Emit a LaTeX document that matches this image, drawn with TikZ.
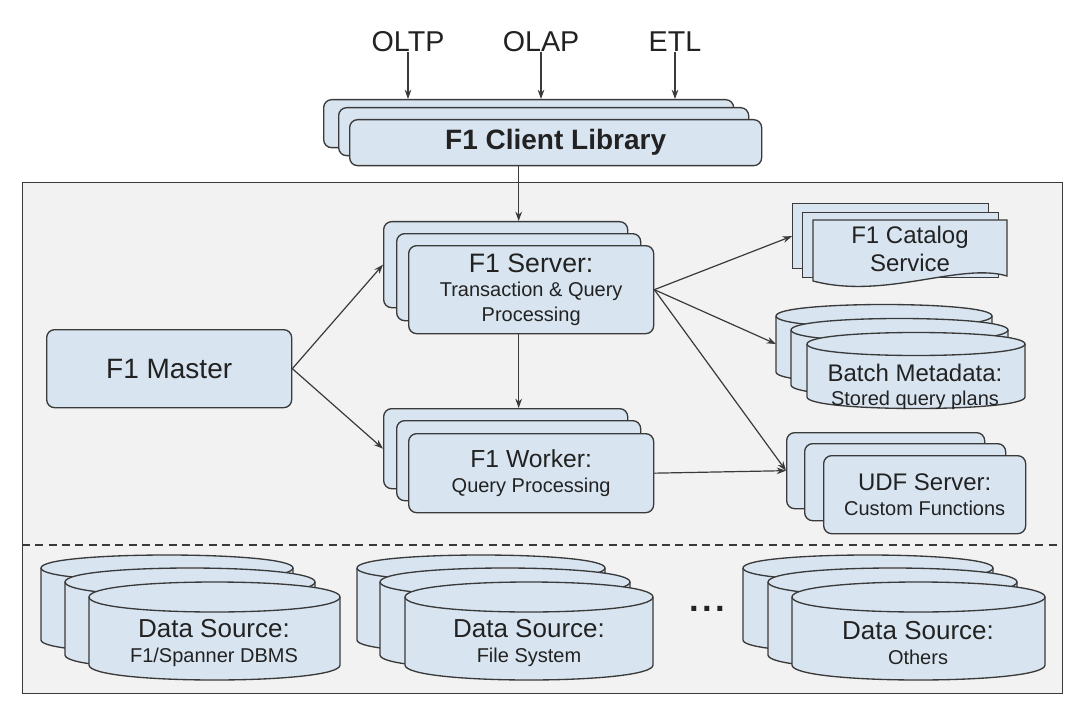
\documentclass[tikz,border=0pt]{standalone}
\usepackage{fontspec}
\setmainfont{Liberation Sans}
\usetikzlibrary{arrows.meta,calc}
\definecolor{boxfill}{HTML}{D8E5F1}
\definecolor{bord}{HTML}{3A3A3A}
\definecolor{bg}{HTML}{F2F2F2}
\definecolor{txt}{HTML}{222222}
\newcommand\fsz[2]{\fontsize{#1}{#2}\selectfont}
% box: [style]{name}{x1}{y1}{x2}{y2}{text}
\newcommand\bx[7][]{\node[box,#1,minimum width={(#5-#3)*0.75pt},minimum height={(#6-#4)*0.75pt}] (#2) at (#3,#4) {#7};}
% cylinder: {name}{l}{r}{top}{bot}{ry}
\newcommand\cyl[6]{%
  \filldraw[cylst] (#2,#4) -- (#2,#5) .. controls (#2,{#5+#6*4/3}) and (#3,{#5+#6*4/3}) .. (#3,#5) -- (#3,#4) .. controls (#3,{#4-#6*4/3}) and (#2,{#4-#6*4/3}) .. cycle;
  \draw[cylst] (#2,#4) .. controls (#2,{#4+#6*4/3}) and (#3,{#4+#6*4/3}) .. (#3,#4);
  \coordinate (#1-w) at (#2,{(#4+#5)/2});}
\begin{document}
\begin{tikzpicture}[x=0.75pt,y=-0.75pt,
  box/.style={draw=bord,fill=boxfill,line width=1pt,rounded corners=6pt,anchor=north west,inner sep=0pt,align=center,text=txt},
  sheet/.style={rounded corners=0pt},
  outer/.style={rounded corners=0pt,fill=bg},
  cylst/.style={draw=bord,fill=boxfill,line width=1pt},
  lbl/.style={text=txt,align=center,inner sep=0pt},
  arr/.style={draw=bord,line width=0.9pt,-{Stealth[length=7pt,width=5pt]}}]
\useasboundingbox (0,0) rectangle (1080,709);
\fill[white] (0,0) rectangle (1080,709);

% outer system box
\bx[outer]{sys}{22}{182}{1062}{693}{}
\coordinate (dl) at (22,545);
\coordinate (dr) at (1062,545);
\draw[bord,line width=0.8pt,dash pattern=on 6pt off 4pt] (dl) -- (dr);

% top labels
\node[lbl,font=\fsz{21.5}{26}] (oltp) at (408,42) {OLTP};
\node[lbl,font=\fsz{21.5}{26}] (olap) at (541,42) {OLAP};
\node[lbl,font=\fsz{21.5}{26}] (etl) at (675,42) {ETL};

% client library
\bx{cl3}{323}{99}{733}{147}{}
\bx{cl2}{338}{107}{748}{155}{}
\bx{cl1}{349}{119}{761}{165}{\fsz{21}{26}\bfseries F1 Client Library}
\draw[arr] (oltp.south) -- (oltp.south |- cl3.north);
\draw[arr] (olap.south) -- (olap.south |- cl3.north);
\draw[arr] (etl.south) -- (etl.south |- cl3.north);

% server
\bx{srv3}{383}{221}{627}{307}{}
\bx{srv2}{396}{233}{640}{320}{}
\bx[font=\fsz{15}{18.5}]{srv1}{408}{245}{653}{333}{{\fsz{20}{25}F1 Server:}\\Transaction \& Query\\Processing}
\draw[arr] (cl1.south -| srv2.north) -- (srv3.north -| srv2.north);

% master
\bx[font=\fsz{21}{26}]{master}{46}{329}{291}{407}{F1 Master}

% worker
\bx{wrk3}{383}{408}{627}{488}{}
\bx{wrk2}{396}{420}{640}{500}{}
\bx[font=\fsz{15}{19}]{wrk1}{408}{433}{653}{512}{{\fsz{18.5}{24}F1 Worker:}\\Query Processing}

% catalog
\bx[sheet]{cat3}{792}{203}{988}{268}{}
\bx[sheet]{cat2}{802}{212}{998}{277}{}
\filldraw[cylst] (813,220) -- (1007,220) -- (1007,276) .. controls (960,262) and (885,300) .. (813,281) -- cycle;
\node[lbl,font=\fsz{18}{20.5}] (cat1) at (910,249) {F1 Catalog\\Service};

% batch metadata
\cyl{bm3}{776}{992}{316}{372}{11.5}
\cyl{bm2}{791}{1008}{330}{385}{11.5}
\cyl{bm1}{807}{1025}{344}{397}{11.5}
\node[lbl,font=\fsz{15}{18.5}] (bm) at (915,387) {{\fsz{18}{24}Batch Metadata:}\\Stored query plans};

% UDF server
\bx{udf3}{786}{432}{984}{508}{}
\bx{udf2}{804}{443}{1005}{520}{}
\bx[font=\fsz{15}{19}]{udf1}{823}{455}{1025}{533}{{\fsz{18}{24}UDF Server:}\\Custom Functions}

% connectors
\draw[arr] (master.east) -- (srv3.west);
\draw[arr] (master.east) -- (wrk3.west);
\draw[arr] (srv1.south -| srv2.north) -- (wrk3.north -| srv2.north);
\draw[arr] (srv1.east) -- (cat3.west);
\draw[arr] (srv1.east) -- (bm3-w);
\draw[arr] (srv1.east) -- (udf3.west);
\draw[arr] (wrk1.east) -- (udf3.west);

% data sources
\cyl{ds3a}{41}{293}{568}{640}{13}
\cyl{ds2a}{65}{315}{582}{655}{14}
\cyl{ds1a}{89}{340}{597}{665}{15}
\node[lbl,font=\fsz{15}{19}] (dsa) at (214,643) {{\fsz{19.5}{24}Data Source:}\\F1/Spanner DBMS};

\cyl{ds3b}{357}{605}{568}{640}{13}
\cyl{ds2b}{380}{630}{582}{655}{14}
\cyl{ds1b}{405}{653}{597}{665}{15}
\node[lbl,font=\fsz{15}{19}] (dsb) at (529,643) {{\fsz{19.5}{24}Data Source:}\\File System};

\node[lbl,font=\fsz{26}{30}\bfseries] (dots) at (707,609) {.\kern2.5pt.\kern2.5pt.};

\cyl{ds3c}{743}{993}{568}{640}{13}
\cyl{ds2c}{768}{1017}{582}{655}{14}
\cyl{ds1c}{792}{1045}{597}{665}{15}
\node[lbl,font=\fsz{15}{19}] (dsc) at (918,643) {{\fsz{19.5}{24}Data Source:}\\Others};
\end{tikzpicture}
\end{document}
